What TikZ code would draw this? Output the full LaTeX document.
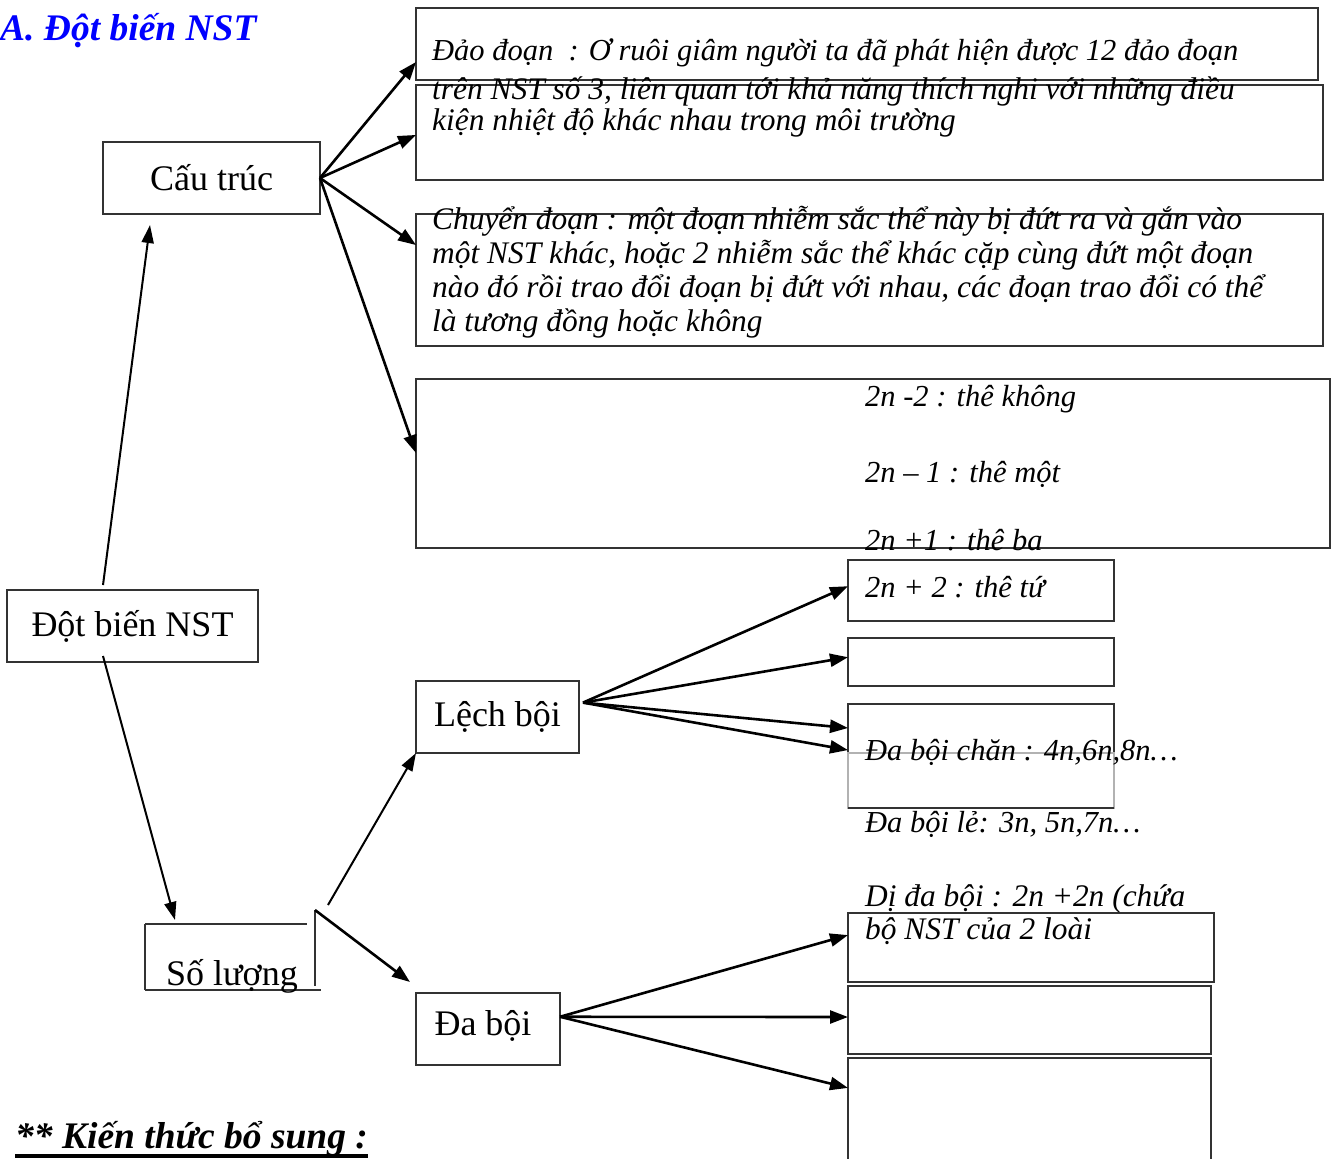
\documentclass[tikz,border=0pt]{standalone}
\usepackage{fontspec}
\setmainfont{Liberation Serif}
\usetikzlibrary{arrows.meta,calc}
\begin{document}
\begin{tikzpicture}[x=1pt,y=-1pt,
  box/.style={draw=black!80, line width=2.2pt, inner sep=0pt, outer sep=0pt, anchor=north west},
  lbl/.style={font=\fontsize{36}{40}\selectfont},
  itx/.style={font=\fontsize{30.5}{34}\selectfont\itshape, anchor=base west, inner sep=0pt},
  itw/.style={font=\fontsize{31.4}{34}\selectfont\itshape, anchor=base west, inner sep=0pt},
  arr/.style={-{Triangle[length=18pt,width=13pt]}, line width=2.6pt},
  thin/.style={-{Triangle[length=18pt,width=12pt]}, line width=2pt},
  edge/.style={draw=black!80, line width=2.2pt}]
\useasboundingbox (0,0) rectangle (1333,1159);
\clip (0,0) rectangle (1333,1159);
\fill[white] (0,0) rectangle (1333,1159);

% title
\node[anchor=base west, inner sep=0pt, text=blue, font=\fontsize{37.5}{40}\selectfont\bfseries\itshape] (title) at (0,40) {A. Đột biến NST};

% left boxes
\node[box, lbl, minimum width=217, minimum height=72] (cau) at (103,142) {Cấu trúc};
\node[box, lbl, minimum width=251, minimum height=72] (dot) at (7,590) {Đột biến NST};
\node[box, lbl, minimum width=163, minimum height=72] (lech) at (416,681) {Lệch bội};
\node[box, minimum width=144, minimum height=72] (da) at (416,993) {};
\node[lbl, inner sep=0pt] (datxt) at ($(da.center)+(-5,-3)$) {Đa bội};

% So luong (open shape)
\node[inner sep=0pt, outer sep=0pt, minimum width=170, minimum height=66, anchor=north west] (so) at (145,924) {};
\draw[edge] (so.north west) -- ++(162,0);
\draw[edge] (so.north east) ++(0,-14) -- ++(0,76);
\draw[edge] (so.south west) -- ++(176,0);
\draw[edge] (so.north west) -- (so.south west);
\node[lbl, anchor=base west, inner sep=0pt] (sotxt) at (166,985) {Số lượng};

% right boxes
\node[box, minimum width=902, minimum height=72] (b1) at (416,8) {};
\node[box, minimum width=907, minimum height=95] (b2) at (416,85) {};
\node[box, minimum width=907, minimum height=132] (b3) at (416,214) {};
\node[box, minimum width=914, minimum height=169] (b4) at (416,379) {};
\node[box, minimum width=266, minimum height=61] (b5) at (848,560) {};
\node[box, minimum width=266, minimum height=48] (b6) at (848,638) {};
\node[box, minimum width=266, minimum height=49] (b7) at (848,704) {};
\node[box, draw=black!30, line width=1.2pt, minimum width=266, minimum height=55] (b8) at (848,753) {};
\draw[edge] (b8.south west) -- (b8.south east);
\node[box, minimum width=366, minimum height=69] (b9) at (848,913) {};
\node[box, minimum width=363, minimum height=68] (b10) at (848,986) {};
\node[box, minimum width=363, minimum height=130] (b11) at (848,1058) {};

% texts
\node[itx] (t1) at (432,60) {Đảo đoạn \ : Ơ ruôi giâm người ta đã phát hiện được 12 đảo đoạn};
\node[itw] (t2) at (432,99) {trên NST số 3, liên quan tới khả năng thích nghi với những điều};
\node[itw] (t3) at (432,130) {kiện nhiệt độ khác nhau trong môi trường};
\node[itw] (t4) at (432,229) {Chuyển đoạn : một đoạn nhiễm sắc thể này bị đứt ra và gắn vào};
\node[itw] (t5) at (432,263) {một NST khác, hoặc 2 nhiễm sắc thể khác cặp cùng đứt một đoạn};
\node[itw] (t6) at (432,297) {nào đó rồi trao đổi đoạn bị đứt với nhau, các đoạn trao đổi có thể};
\node[itw] (t7) at (432,331) {là tương đồng hoặc không};
\node[itx] (t8) at (865,406) {2n -2 : thê không};
\node[itx] (t9) at (865,482) {2n – 1 : thê một};
\node[itx] (t10) at (865,550) {2n +1 : thê ba};
\node[itx] (t11) at (865,597) {2n + 2 : thê tứ};
\node[itx] (t12) at (865,760) {Đa bội chăn : 4n,6n,8n…};
\node[itx] (t13) at (865,832) {Đa bội lẻ: 3n, 5n,7n…};
\node[itw] (t14) at (865,906) {Dị đa bội : 2n +2n (chứa};
\node[itw] (t15) at (865,939) {bộ NST của 2 loài};

% bottom heading
\node[anchor=base west, inner sep=0pt, font=\fontsize{37.5}{40}\selectfont\bfseries\itshape] (kt) at (15,1148) {** Kiến thức bổ sung :};
\draw[line width=3.5pt] ($(kt.base west)+(0,8)$) -- ($(kt.base east)+(0,8)$);

% connectors
\draw[thin] ($(dot.north west)+(96,-5)$) -- ($(cau.south west)+(47,11)$);
\draw[thin] ($(dot.south west)+(96,-6)$) -- ($(so.north west)+(30,-4)$);
\draw[thin] ($(so.north east)+(13,-19)$) -- (lech.south west);
\draw[arr] ($(so.north east)+(0,-14)$) -- ($(da.north west)+(-6,-11)$);

\draw[arr] (cau.east) -- ($(b1.north west)!0.75!(b1.south west)$);
\draw[arr] (cau.east) -- ($(b2.north west)!0.526!(b2.south west)$);
\draw[arr] (cau.east) -- ($(b3.north west)!0.235!(b3.south west)$);
\draw[arr] (cau.east) -- ($(b4.north west)!0.438!(b4.south west)$);

\coordinate (ls) at ($(lech.north east)!0.3!(lech.south east)+(4,0)$);
\draw[arr] (ls) -- ($(b5.north west)!0.43!(b5.south west)$);
\draw[arr] (ls) -- ($(b6.north west)!0.4!(b6.south west)$);
\draw[arr] (ls) -- ($(b7.north west)!0.49!(b7.south west)$);
\draw[arr] (ls) -- ($(b7.north west)!0.94!(b7.south west)$);

\coordinate (ds) at ($(da.north east)!0.33!(da.south east)$);
\draw[arr] (ds) -- ($(b9.north west)!0.32!(b9.south west)$);
\draw[arr] (ds) -- ($(b10.north west)!0.456!(b10.south west)$);
\draw[arr] (ds) -- ($(b11.north west)!0.23!(b11.south west)$);
\end{tikzpicture}
\end{document}
